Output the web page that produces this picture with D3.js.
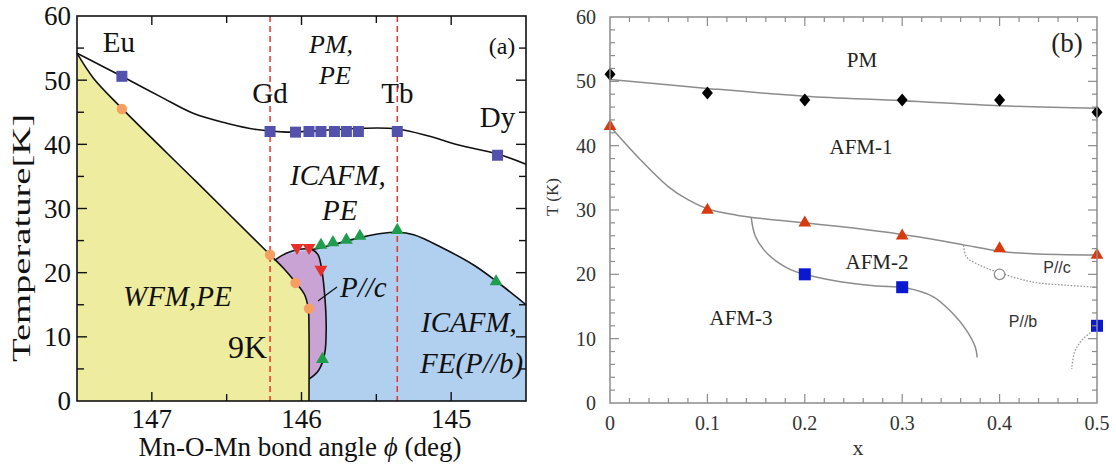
<!DOCTYPE html>
<html><head><meta charset="utf-8">
<script src="https://cdn.jsdelivr.net/npm/d3@7"></script>
<style>body{margin:0;background:#fff}svg{display:block}</style>
</head><body>
<svg id="fig" width="1116" height="464"></svg>
<script>
// ---------- Panel (a): phase diagram vs Mn-O-Mn bond angle ----------
const aTickLabels = [147, 146, 145];
const aTempTicks = [0, 10, 20, 30, 40, 50, 60];
const aSquares = [[147.20,50.6],[146.21,42.0],[146.04,41.9],[145.95,42.0],[145.87,42.0],[145.78,42.0],[145.70,42.0],[145.62,42.0],[145.36,42.0],[144.69,38.3]];
const aCircles = [[147.20,45.5],[146.21,22.8],[146.04,18.4],[145.95,14.4]];
const aDownTri = [[146.03,23.9],[145.95,23.9],[145.87,20.5]];
const aUpTri = [[145.86,6.5],[145.87,24.3],[145.79,24.7],[145.70,25.1],[145.61,25.7],[145.36,26.6],[144.70,18.6]];
const aNeelLine = [[147.5,54.2],[147.35,52.4],[147.2,50.6],[146.94,47.4],[146.72,44.8],[146.5,43.3],[146.3,42.3],[146.1,41.9],[145.9,42.1],[145.6,42.5],[145.36,42.4],[145.15,41.3],[144.95,39.9],[144.69,38.5],[144.5,36.9]];
const aWfmLine = [[147.5,54.2],[147.39,50.3],[147.2,45.6],[146.7,34.1],[146.21,22.8],[146.12,20.7],[146.04,18.5],[145.98,16.6],[145.955,14.4],[145.95,11],[145.95,0]];
const aPcEdge = [[146.18,21.9],[146.13,22.7],[146.07,23.3],[146.0,23.7],[145.93,23.6],[145.89,22.8],[145.865,20.5],[145.845,16.5],[145.835,11.6],[145.845,7.4],[145.885,4.8],[145.95,3.4]];
const aPcLeft = [[145.95,3.4],[145.95,11],[145.955,14.4],[145.98,16.6],[146.04,18.5],[146.12,20.7],[146.18,21.9]];
const aFeTop = [[145.93,23.6],[145.85,24.0],[145.72,24.8],[145.6,25.5],[145.47,26.1],[145.36,26.3],[145.25,25.9],[145.07,24.0],[144.85,21.2],[144.7,18.7],[144.5,15.0]];
const aCompounds = [["Eu",147.22,52],["Gd",146.21,103],["Tb",145.36,103],["Dy",144.69,127]];
const aMarkerAngles = [146.21, 145.36];

// ---------- Panel (b): phase diagram vs x ----------
const bTickLabels = ["0","0.1","0.2","0.3","0.4","0.5"];
const bX = [0, 0.1, 0.2, 0.3, 0.4, 0.5];
const bTempTicks = [0, 10, 20, 30, 40, 50, 60];
const bPM = [51.1, 48.2, 47.1, 47.1, 47.1, 45.2];
const bAFM2 = [43, 30, 28, 26, 24, 23];
const bSqX = [0.2, 0.3, 0.5];
const bSqT = [20, 18, 12];
const bOpen = [[0.4, 20]];
const bLinePM = [[0,50.3],[0.1,48.9],[0.2,47.7],[0.3,47.0],[0.4,46.2],[0.5,45.8]];
const bLine12 = [[0,43],[0.03,38.0],[0.06,33.6],[0.08,31.6],[0.1,30.2],[0.13,29.2],[0.16,28.6],[0.2,28.0],[0.25,27.2],[0.3,26.2],[0.33,25.5],[0.366,24.5],[0.4,23.6],[0.434,23.2],[0.5,23.0]];
const bLine23 = [[0.145,28.8],[0.149,26.0],[0.158,23.8],[0.172,21.9],[0.186,20.7],[0.2,20.0],[0.238,18.8],[0.274,18.2],[0.303,17.9],[0.332,16.5],[0.352,13.9],[0.366,11.3],[0.375,8.7],[0.377,7.1]];
const bDotC = [[0.363,24.5],[0.366,22.7],[0.38,21.4],[0.397,20.4],[0.434,18.8],[0.469,18.3],[0.5,18.0]];
const bDotB = [[0.5,12.0],[0.496,11.3],[0.484,9.7],[0.477,7.9],[0.474,5.3]];

const svg = d3.select("#fig");
const serif = "'Liberation Serif','Times New Roman',serif";
const sans = "'Liberation Sans',Arial,sans-serif";

// ======== panel (a) ========
const ax = d3.scaleLinear().domain([147.5, 144.5]).range([77, 526]);
const ay = d3.scaleLinear().domain([0, 60]).range([401, 16]);
const aLine = d3.line().x(d => ax(d[0])).y(d => ay(d[1])).curve(d3.curveCatmullRom.alpha(0.5));
const cont = p => aLine(p).replace(/^M/, "L");

const ga = svg.append("g");
ga.append("rect").attr("x", ax(147.5)).attr("y", ay(60)).attr("width", ax(144.5)-ax(147.5)).attr("height", ay(0)-ay(60)).attr("fill", "#fff");

// WFM,PE region
ga.append("path")
  .attr("d", aLine(aWfmLine) + `L${ax(147.5)},${ay(0)}Z`)
  .attr("fill", "#eeec9e");
// P//c region
ga.append("path")
  .attr("d", aLine(aPcEdge) + cont(aPcLeft) + "Z")
  .attr("fill", "#c9a3d4");
// FE (P//b) region
ga.append("path")
  .attr("d", `M${ax(145.95)},${ay(0)}` + cont(aPcEdge.slice().reverse().slice(0, -1)) + cont(aFeTop) + `L${ax(144.5)},${ay(0)}Z`)
  .attr("fill", "#b1d0ef");

// compound markers
aMarkerAngles.forEach(v => {
  ga.append("line").attr("x1", ax(v)).attr("x2", ax(v)).attr("y1", ay(60)).attr("y2", ay(0))
    .attr("stroke", "#e8342c").attr("stroke-width", 1.5).attr("stroke-dasharray", "6,4");
});

// phase boundaries
[aNeelLine, aWfmLine, aPcEdge, aFeTop].forEach(p => {
  ga.append("path").attr("d", aLine(p)).attr("fill", "none").attr("stroke", "#111").attr("stroke-width", 1.6);
});
// pointer for P//c
ga.append("line").attr("x1", 318).attr("y1", 301).attr("x2", 337).attr("y2", 287).attr("stroke", "#111").attr("stroke-width", 1.3);

// markers
ga.selectAll(".sq").data(aSquares).join("rect")
  .attr("x", d => ax(d[0]) - 5.5).attr("y", d => ay(d[1]) - 5.5).attr("width", 11).attr("height", 11)
  .attr("fill", "#5252ac");
ga.selectAll(".ci").data(aCircles).join("circle")
  .attr("cx", d => ax(d[0])).attr("cy", d => ay(d[1])).attr("r", 5.2).attr("fill", "#f5a062");
const tri = d3.symbol().type(d3.symbolTriangle).size(72);
ga.selectAll(".dt").data(aDownTri).join("path")
  .attr("d", tri).attr("transform", d => `translate(${ax(d[0])},${ay(d[1])}) rotate(180)`).attr("fill", "#e8302a");
ga.selectAll(".ut").data(aUpTri).join("path")
  .attr("d", tri).attr("transform", d => `translate(${ax(d[0])},${ay(d[1])})`).attr("fill", "#1e9e4c");

// frame and ticks
ga.append("rect").attr("x", ax(147.5)).attr("y", ay(60)).attr("width", ax(144.5)-ax(147.5)).attr("height", ay(0)-ay(60))
  .attr("fill", "none").attr("stroke", "#111").attr("stroke-width", 1.6);
d3.range(0, 7).map(i => 147 - i*0.5).filter(v => v >= 144.6).forEach(v => {
  const L = Number.isInteger(v) ? 9 : 7;
  ga.append("line").attr("x1", ax(v)).attr("x2", ax(v)).attr("y1", ay(0)).attr("y2", ay(0)-L).attr("stroke", "#111").attr("stroke-width", 1.4);
  ga.append("line").attr("x1", ax(v)).attr("x2", ax(v)).attr("y1", ay(60)).attr("y2", ay(60)+L).attr("stroke", "#111").attr("stroke-width", 1.4);
});
d3.range(5, 60, 5).forEach(v => {
  const L = v % 10 === 0 ? 10 : 7;
  ga.append("line").attr("x1", ax(147.5)).attr("x2", ax(147.5)+L).attr("y1", ay(v)).attr("y2", ay(v)).attr("stroke", "#111").attr("stroke-width", 1.4);
  ga.append("line").attr("x1", ax(144.5)).attr("x2", ax(144.5)-L).attr("y1", ay(v)).attr("y2", ay(v)).attr("stroke", "#111").attr("stroke-width", 1.4);
});
// tick labels
ga.selectAll(".xl").data(aTickLabels).join("text")
  .attr("x", d => ax(d)).attr("y", 428).attr("text-anchor", "middle")
  .attr("font-family", serif).attr("font-size", 27).attr("fill", "#111").text(d => d);
ga.selectAll(".yl").data(aTempTicks).join("text")
  .attr("x", 71).attr("y", d => ay(d)).attr("dy", "0.35em").attr("text-anchor", "end")
  .attr("font-family", serif).attr("font-size", 27).attr("fill", "#111").text(d => d);
// axis titles
const xt = ga.append("text").attr("x", 300).attr("y", 456).attr("text-anchor", "middle")
  .attr("font-family", serif).attr("font-size", 27).attr("fill", "#111");
xt.append("tspan").text("Mn-O-Mn bond angle ");
xt.append("tspan").attr("font-style", "italic").text("ϕ");
xt.append("tspan").text(" (deg)");
ga.append("text").attr("transform", "translate(30,238) rotate(-90)").attr("text-anchor", "middle")
  .attr("font-family", serif).attr("font-size", 26).attr("fill", "#111")
  .attr("textLength", 248).attr("lengthAdjust", "spacingAndGlyphs").text("Temperature[K]");

// compound names
ga.selectAll(".cn").data(aCompounds).join("text")
  .attr("x", d => ax(d[1])).attr("y", d => d[2]).attr("text-anchor", "middle")
  .attr("font-family", serif).attr("font-size", 29).attr("fill", "#111").text(d => d[0]);
ga.append("text").attr("x", 502).attr("y", 54).attr("text-anchor", "middle")
  .attr("font-family", serif).attr("font-size", 24).attr("fill", "#111").text("(a)");

// phase labels
const aLabels = [
  ["PM,", 309, 53, 26], ["PE", 319, 84, 26],
  ["ICAFM,", 290, 185, 29], ["PE", 322, 220, 29],
  ["WFM,PE", 123, 306, 29], ["P//c", 340, 297, 29],
  ["ICAFM,", 421, 332, 29], ["FE(P//b)", 420, 373, 29]
];
aLabels.forEach(([t, x, y, s]) => {
  ga.append("text").attr("x", x).attr("y", y)
    .attr("font-family", serif).attr("font-style", "italic").attr("font-size", s).attr("fill", "#111").text(t);
});
ga.append("text").attr("x", 228).attr("y", 358).attr("font-family", serif).attr("font-size", 32).attr("fill", "#111").text("9K");

// ======== panel (b) ========
const bx = d3.scaleLinear().domain([0, 0.5]).range([610, 1097]);
const by = d3.scaleLinear().domain([0, 60]).range([403, 17]);
const bLine = d3.line().x(d => bx(d[0])).y(d => by(d[1])).curve(d3.curveCatmullRom.alpha(0.5));
const gb = svg.append("g");
const grey = "#8c8c8c";

[bLinePM, bLine12, bLine23].forEach(p => {
  gb.append("path").attr("d", bLine(p)).attr("fill", "none").attr("stroke", grey).attr("stroke-width", 1.5);
});
[bDotC, bDotB].forEach(p => {
  gb.append("path").attr("d", bLine(p)).attr("fill", "none").attr("stroke", "#9a9a9a").attr("stroke-width", 1.3).attr("stroke-dasharray", "1.6,1.6");
});

// markers
gb.selectAll(".dm").data(bX.map((x, i) => [x, bPM[i]])).join("path")
  .attr("d", "M0,-6.5L5.5,0L0,6.5L-5.5,0Z")
  .attr("transform", d => `translate(${bx(d[0])},${by(d[1])})`).attr("fill", "#000");
gb.selectAll(".tr").data(bX.map((x, i) => [x, bAFM2[i]])).join("path")
  .attr("d", d3.symbol().type(d3.symbolTriangle).size(70))
  .attr("transform", d => `translate(${bx(d[0])},${by(d[1])})`).attr("fill", "#d83a0e");
gb.selectAll(".bs").data(bSqX.map((x, i) => [x, bSqT[i]])).join("rect")
  .attr("x", d => bx(d[0]) - 6).attr("y", d => by(d[1]) - 6).attr("width", 12).attr("height", 12).attr("fill", "#0a18d0");
gb.selectAll(".oc").data(bOpen).join("circle")
  .attr("cx", d => bx(d[0])).attr("cy", d => by(d[1])).attr("r", 5.3)
  .attr("fill", "#fff").attr("stroke", "#909090").attr("stroke-width", 1.3);

// frame and ticks
gb.append("rect").attr("x", bx(0)).attr("y", by(60)).attr("width", bx(0.5)-bx(0)).attr("height", by(0)-by(60))
  .attr("fill", "none").attr("stroke", grey).attr("stroke-width", 1.5);
d3.range(1, 25).forEach(i => {
  const v = i * 0.02, L = i % 5 === 0 ? 9 : 5;
  gb.append("line").attr("x1", bx(v)).attr("x2", bx(v)).attr("y1", by(0)).attr("y2", by(0)-L).attr("stroke", grey).attr("stroke-width", 1.2);
  gb.append("line").attr("x1", bx(v)).attr("x2", bx(v)).attr("y1", by(60)).attr("y2", by(60)+L).attr("stroke", grey).attr("stroke-width", 1.2);
});
d3.range(1, 30).forEach(i => {
  const v = i * 2, L = v % 10 === 0 ? 9 : 5;
  gb.append("line").attr("x1", bx(0)).attr("x2", bx(0)+L).attr("y1", by(v)).attr("y2", by(v)).attr("stroke", grey).attr("stroke-width", 1.2);
  gb.append("line").attr("x1", bx(0.5)).attr("x2", bx(0.5)-L).attr("y1", by(v)).attr("y2", by(v)).attr("stroke", grey).attr("stroke-width", 1.2);
});
gb.selectAll(".bxl").data(bTickLabels).join("text")
  .attr("x", (d, i) => bx(bX[i])).attr("y", 430).attr("text-anchor", "middle")
  .attr("font-family", serif).attr("font-size", 20).attr("fill", "#333").text(d => d);
gb.selectAll(".byl").data(bTempTicks).join("text")
  .attr("x", 596).attr("y", d => by(d)).attr("dy", "0.35em").attr("text-anchor", "end")
  .attr("font-family", serif).attr("font-size", 20).attr("fill", "#333").text(d => d);
gb.append("text").attr("x", 858).attr("y", 455).attr("text-anchor", "middle")
  .attr("font-family", serif).attr("font-size", 22).attr("fill", "#333").text("x");
gb.append("text").attr("transform", "translate(558,197) rotate(-90)").attr("text-anchor", "middle")
  .attr("font-family", serif).attr("font-size", 17).attr("fill", "#333").text("T (K)");

// phase labels
[["PM", 862, 67], ["AFM-1", 861, 154], ["AFM-2", 877, 269], ["AFM-3", 741, 325]].forEach(([t, x, y]) => {
  gb.append("text").attr("x", x).attr("y", y).attr("text-anchor", "middle")
    .attr("font-family", serif).attr("font-size", 21).attr("fill", "#222").text(t);
});
[["P//c", 1057, 273], ["P//b", 1023, 327]].forEach(([t, x, y]) => {
  gb.append("text").attr("x", x).attr("y", y).attr("text-anchor", "middle")
    .attr("font-family", sans).attr("font-size", 16).attr("fill", "#333").text(t);
});
gb.append("text").attr("x", 1067).attr("y", 52).attr("text-anchor", "middle")
  .attr("font-family", serif).attr("font-size", 27).attr("fill", "#222").text("(b)");
</script>
</body></html>
